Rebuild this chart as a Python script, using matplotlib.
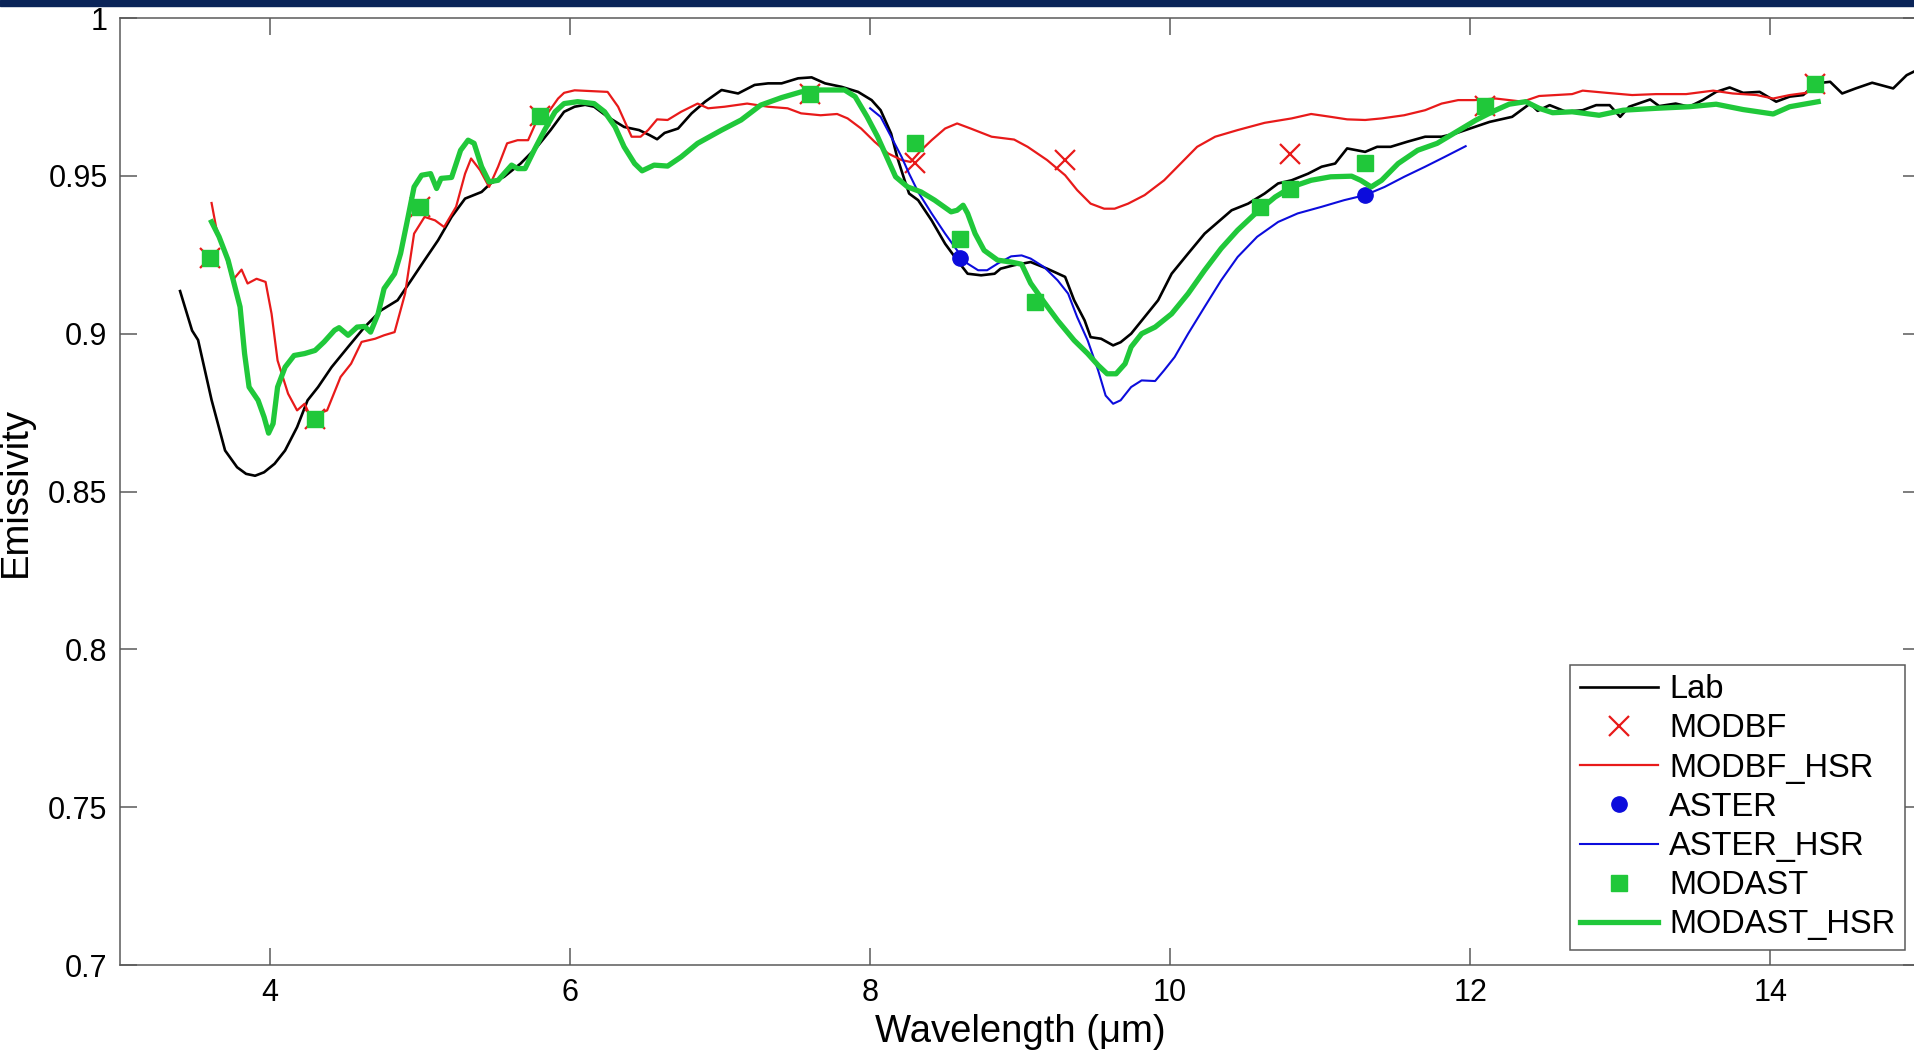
import matplotlib
matplotlib.use("Agg")
import matplotlib.pyplot as plt
from matplotlib.patches import Rectangle

plt.rcParams['font.family'] = ['Liberation Sans', 'DejaVu Sans']

# Lab spectrum
lab_x = [3.40, 3.48, 3.52, 3.61, 3.70, 3.78, 3.84, 3.90, 3.96, 4.03, 4.10, 4.18, 4.25, 4.32,
         4.41, 4.52, 4.63, 4.74, 4.85, 4.94, 5.03, 5.12, 5.21, 5.30, 5.41, 5.47, 5.56, 5.67,
         5.78, 5.87, 5.96, 6.03, 6.10, 6.16, 6.25, 6.36, 6.46, 6.53, 6.58, 6.63, 6.72, 6.81,
         6.90, 7.01, 7.12, 7.23, 7.32, 7.41, 7.52, 7.61, 7.70, 7.81, 7.92, 8.01, 8.07, 8.14,
         8.18, 8.23, 8.26, 8.32, 8.41, 8.50, 8.58, 8.65, 8.74, 8.83, 8.87, 8.96, 9.07, 9.18,
         9.30, 9.36, 9.43, 9.47, 9.54, 9.62, 9.67, 9.74, 9.83, 9.92, 10.01, 10.12, 10.23,
         10.32, 10.41, 10.52, 10.63, 10.72, 10.81, 10.92, 11.01, 11.10, 11.18, 11.30, 11.38,
         11.47, 11.58, 11.70, 11.81, 11.90, 12.03, 12.13, 12.28, 12.40, 12.45, 12.53, 12.64,
         12.75, 12.84, 12.93, 13.00, 13.06, 13.20, 13.26, 13.37, 13.46, 13.55, 13.64, 13.73,
         13.82, 13.93, 14.04, 14.13, 14.22, 14.31, 14.40, 14.48, 14.57, 14.68, 14.82, 14.91,
         14.97, 15.05]
lab_y = [0.9135, 0.901, 0.898, 0.879, 0.863, 0.8577, 0.8556, 0.855, 0.8561, 0.8588, 0.863,
         0.8704, 0.8789, 0.8831, 0.8894, 0.8958, 0.9021, 0.9074, 0.9106, 0.9169, 0.9233,
         0.9296, 0.937, 0.9428, 0.9449, 0.9476, 0.9497, 0.9539, 0.9592, 0.9645, 0.9703,
         0.9719, 0.9725, 0.9719, 0.9687, 0.9655, 0.9645, 0.9629, 0.9616, 0.9636, 0.965,
         0.9698, 0.9735, 0.9772, 0.9761, 0.9788, 0.9793, 0.9793, 0.9809, 0.9812, 0.9793,
         0.9782, 0.9766, 0.974, 0.9708, 0.9634, 0.956, 0.9486, 0.9444, 0.9423, 0.9359,
         0.9285, 0.9233, 0.919, 0.9185, 0.919, 0.9206, 0.9217, 0.9227, 0.9206, 0.918,
         0.9106, 0.9042, 0.8989, 0.8984, 0.8963, 0.8973, 0.9, 0.9053, 0.9106, 0.919, 0.9254,
         0.9317, 0.9354, 0.9391, 0.9412, 0.9444, 0.9476, 0.9486, 0.9507, 0.9529, 0.9539,
         0.9587, 0.9576, 0.9592, 0.9592, 0.9608, 0.9624, 0.9624, 0.9634, 0.9655, 0.9671,
         0.9687, 0.9729, 0.9706, 0.9724, 0.9703, 0.9708, 0.9724, 0.9724, 0.9687, 0.9719,
         0.9742, 0.9721, 0.9729, 0.9719, 0.974, 0.9766, 0.978, 0.9763, 0.9766, 0.9735,
         0.9751, 0.9756, 0.9793, 0.9798, 0.9761, 0.9777, 0.9795, 0.9777, 0.9819, 0.9833,
         0.984]

# MODBF high spectral resolution
modbf_hsr_x = [3.61, 3.64, 3.70, 3.75, 3.81, 3.85, 3.91, 3.97, 4.01, 4.05, 4.12, 4.18, 4.23,
               4.27, 4.38, 4.47, 4.54, 4.61, 4.70, 4.76, 4.83, 4.90, 4.96, 5.03, 5.10, 5.16,
               5.24, 5.30, 5.34, 5.40, 5.46, 5.52, 5.58, 5.65, 5.72, 5.78, 5.85, 5.92, 5.96,
               6.03, 6.25, 6.32, 6.41, 6.47, 6.52, 6.58, 6.65, 6.74, 6.85, 6.92, 7.03, 7.18,
               7.32, 7.45, 7.54, 7.67, 7.78, 7.85, 7.94, 8.03, 8.12, 8.21, 8.27, 8.34, 8.41,
               8.50, 8.58, 8.67, 8.81, 8.96, 9.05, 9.18, 9.30, 9.38, 9.47, 9.56, 9.63, 9.72,
               9.83, 9.96, 10.07, 10.18, 10.30, 10.45, 10.63, 10.81, 10.94, 11.07, 11.18,
               11.30, 11.41, 11.56, 11.70, 11.81, 11.92, 12.03, 12.17, 12.35, 12.46, 12.68,
               12.75, 12.91, 13.08, 13.24, 13.44, 13.62, 13.75, 13.91, 14.02, 14.13, 14.24,
               14.30]
modbf_hsr_y = [0.9414, 0.9338, 0.9254, 0.9169, 0.9203, 0.9159, 0.9174, 0.9164, 0.9063,
               0.8915, 0.881, 0.8757, 0.8778, 0.8736, 0.8757, 0.8863, 0.8905, 0.8974,
               0.8984, 0.8995, 0.9005, 0.9127, 0.9317, 0.937, 0.9359, 0.9338, 0.9402,
               0.9507, 0.9555, 0.9518, 0.9465, 0.9529, 0.9603, 0.9613, 0.9613, 0.9677,
               0.9698, 0.9745, 0.9763, 0.9771, 0.9766, 0.9719, 0.9624, 0.9624, 0.9645,
               0.9679, 0.9677, 0.9703, 0.9729, 0.9714, 0.9719, 0.9729, 0.9719, 0.9714,
               0.9698, 0.9692, 0.9696, 0.9682, 0.965, 0.9608, 0.9571, 0.955, 0.9544, 0.9581,
               0.9613, 0.965, 0.9666, 0.965, 0.9624, 0.9615, 0.9592, 0.955, 0.9502, 0.9455,
               0.9412, 0.9396, 0.9396, 0.9412, 0.9439, 0.9486, 0.9539, 0.9592, 0.9624,
               0.9645, 0.9668, 0.9682, 0.9696, 0.9687, 0.9679, 0.9677, 0.9682, 0.9692,
               0.9708, 0.9729, 0.974, 0.974, 0.9745, 0.9735, 0.9753, 0.9759, 0.977, 0.9763,
               0.9756, 0.9759, 0.9759, 0.977, 0.9761, 0.9756, 0.9745, 0.9756, 0.9763, 0.9782]

# ASTER high spectral resolution
aster_hsr_x = [8.00, 8.07, 8.14, 8.21, 8.26, 8.32, 8.41, 8.50, 8.58, 8.65, 8.72, 8.78, 8.85,
               8.94, 9.01, 9.07, 9.16, 9.25, 9.32, 9.38, 9.45, 9.52, 9.57, 9.62, 9.67, 9.74,
               9.81, 9.90, 9.96, 10.03, 10.12, 10.23, 10.34, 10.45, 10.58, 10.72, 10.85,
               11.01, 11.16, 11.30, 11.43, 11.56, 11.70, 11.83, 11.97]
aster_hsr_y = [0.9714, 0.9687, 0.9624, 0.956, 0.9507, 0.9449, 0.9381, 0.9317, 0.9264,
               0.9222, 0.9201, 0.9201, 0.9222, 0.9245, 0.9248, 0.9238, 0.9211, 0.9169,
               0.9127, 0.9053, 0.8979, 0.8884, 0.8804, 0.8778, 0.8789, 0.8831, 0.8852,
               0.885, 0.8884, 0.8926, 0.9, 0.9085, 0.9169, 0.9243, 0.9307, 0.9354, 0.9381,
               0.9402, 0.9423, 0.9439, 0.9465, 0.9497, 0.9529, 0.956, 0.9594]

# MODAST high spectral resolution
modast_hsr_x = [3.61, 3.66, 3.72, 3.76, 3.80, 3.83, 3.86, 3.92, 3.96, 3.99, 4.02, 4.05, 4.10,
                4.16, 4.23, 4.30, 4.36, 4.43, 4.46, 4.52, 4.58, 4.63, 4.67, 4.72, 4.76, 4.83,
                4.87, 4.92, 4.96, 5.01, 5.07, 5.11, 5.14, 5.21, 5.27, 5.32, 5.36, 5.41, 5.46,
                5.52, 5.61, 5.65, 5.70, 5.76, 5.83, 5.90, 5.96, 6.05, 6.16, 6.23, 6.30, 6.36,
                6.43, 6.48, 6.56, 6.65, 6.74, 6.85, 7.01, 7.14, 7.27, 7.41, 7.54, 7.67, 7.83,
                7.90, 7.98, 8.05, 8.12, 8.17, 8.25, 8.34, 8.43, 8.54, 8.58, 8.62, 8.65, 8.70,
                8.76, 8.85, 8.94, 9.01, 9.07, 9.16, 9.25, 9.36, 9.45, 9.52, 9.58, 9.64, 9.70,
                9.74, 9.81, 9.90, 10.01, 10.12, 10.23, 10.34, 10.45, 10.58, 10.70, 10.81,
                10.94, 11.07, 11.21, 11.27, 11.34, 11.41, 11.52, 11.65, 11.78, 11.90, 12.04,
                12.17, 12.26, 12.37, 12.46, 12.55, 12.68, 12.86, 13.02, 13.24, 13.46, 13.64,
                13.82, 14.02, 14.13, 14.32]
modast_hsr_y = [0.9354, 0.9307, 0.9233, 0.9159, 0.9085, 0.8937, 0.8831, 0.8789, 0.8736,
                0.8685, 0.8715, 0.8831, 0.8894, 0.8931, 0.8937, 0.8947, 0.8974, 0.9011,
                0.9019, 0.8995, 0.9021, 0.9023, 0.9005, 0.9063, 0.9143, 0.919, 0.9254,
                0.937, 0.9465, 0.9502, 0.9507, 0.946, 0.9492, 0.9495, 0.9581, 0.9613,
                0.9603, 0.9529, 0.9481, 0.9486, 0.9534, 0.9523, 0.9523, 0.9581, 0.9645,
                0.9703, 0.9729, 0.9735, 0.9729, 0.9703, 0.9655, 0.9592, 0.9539, 0.9516,
                0.9534, 0.9531, 0.956, 0.9603, 0.9645, 0.9677, 0.9724, 0.9748, 0.9766,
                0.9772, 0.9772, 0.9751, 0.9687, 0.9624, 0.955, 0.9497, 0.9465, 0.9449,
                0.9423, 0.9386, 0.9391, 0.9407, 0.9381, 0.9317, 0.9264, 0.9233, 0.9227,
                0.922, 0.916, 0.91, 0.9042, 0.8979, 0.8937, 0.89, 0.8873, 0.8873, 0.8905,
                0.8958, 0.9, 0.9021, 0.9063, 0.9127, 0.9201, 0.927, 0.9328, 0.9386, 0.9433,
                0.9465, 0.9486, 0.9497, 0.9499, 0.9486, 0.9465, 0.9486, 0.9539, 0.9581,
                0.9603, 0.9637, 0.9677, 0.9708, 0.9727, 0.9735, 0.9714, 0.97, 0.9703,
                0.9692, 0.9708, 0.9714, 0.9719, 0.9727, 0.971, 0.9696, 0.9719, 0.9735]

# band values
modbf_x = [3.6, 4.3, 5.0, 5.8, 7.6, 8.3, 9.3, 10.8, 12.1, 14.3]
modbf_y = [0.924, 0.873, 0.940, 0.969, 0.976, 0.954, 0.955, 0.957, 0.972, 0.979]
aster_x = [8.6, 11.3]
aster_y = [0.924, 0.944]
modast_x = [3.6, 4.3, 5.0, 5.8, 7.6, 8.3, 8.6, 9.1, 10.6, 10.8, 11.3, 12.1, 14.3]
modast_y = [0.924, 0.873, 0.940, 0.969, 0.976, 0.9605, 0.930, 0.910, 0.940, 0.9457, 0.954,
            0.972, 0.979]

x_ticks = [4, 6, 8, 10, 12, 14]
y_ticks = [0.7, 0.75, 0.8, 0.85, 0.9, 0.95, 1.0]
y_tick_labels = ['0.7', '0.75', '0.8', '0.85', '0.9', '0.95', '1']

red = '#e81a1a'
blue = '#0c0cdc'
green = '#20c83a'
edge = '#5a5a5a'

fig = plt.figure(figsize=(19.15, 10.54), dpi=100)
ax = fig.add_axes([0.0627, 0.0844, 0.94, 0.8985])

ax.plot(lab_x, lab_y, color='black', lw=1.9, label='Lab')
ax.plot(modbf_x, modbf_y, ls='none', marker='x', ms=15, mew=1.6, color=red, label='MODBF')
ax.plot(modbf_hsr_x, modbf_hsr_y, color=red, lw=1.6, label='MODBF_HSR')
ax.plot(aster_x, aster_y, ls='none', marker='o', ms=11, color=blue, label='ASTER')
ax.plot(aster_hsr_x, aster_hsr_y, color=blue, lw=1.5, label='ASTER_HSR')
ax.plot(modast_x, modast_y, ls='none', marker='s', ms=11.5, color=green, label='MODAST')
ax.plot(modast_hsr_x, modast_hsr_y, color=green, lw=3.8, label='MODAST_HSR')

ax.set_xlim(3, 15)
ax.set_ylim(0.7, 1.0)
ax.set_xticks(x_ticks)
ax.set_yticks(y_ticks)
ax.set_yticklabels(y_tick_labels)
ax.tick_params(direction='in', length=12, width=1.1, color=edge, labelsize=22,
               top=True, right=True, pad=9)
for sp in ax.spines.values():
    sp.set_color(edge)
    sp.set_linewidth(1.1)

ax.set_xlabel('Wavelength (\u03bcm)', fontsize=27.5)
ax.set_ylabel('Emissivity', fontsize=27.5)
ax.xaxis.set_label_coords(0.5, -0.052)
ax.yaxis.set_label_coords(-0.048, 0.5)

leg = ax.legend(loc='lower right', bbox_to_anchor=(0.9917, 0.0158), borderaxespad=0,
                fontsize=23.5, numpoints=1, fancybox=False, framealpha=1,
                edgecolor=edge, handlelength=2.4, handletextpad=0.35,
                labelspacing=0.25, borderpad=0.3)
leg.get_frame().set_linewidth(1.1)

# dark banner at the top of the slide
fig.patches.append(Rectangle((0, 1 - 6 / 1054), 1, 6 / 1054, transform=fig.transFigure,
                             color='#0a2458', zorder=10))

fig.savefig('out.png', dpi=100)
